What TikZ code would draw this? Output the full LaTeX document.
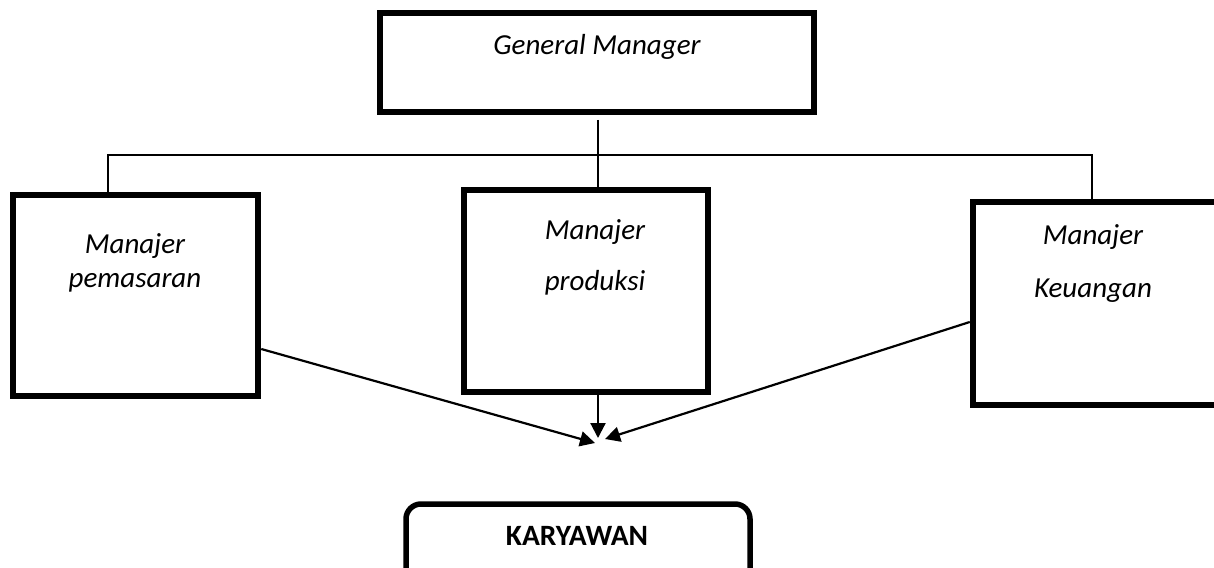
\documentclass[tikz,border=0pt]{standalone}
\usepackage{fontspec}
\setmainfont{Carlito}
\usetikzlibrary{arrows.meta}
\begin{document}
\begin{tikzpicture}[x=1pt,y=-1pt,
  box/.style={draw,line width=6.5pt,inner sep=0pt,minimum width=#1},
  lbl/.style={anchor=base,inner sep=0pt,font=\fontsize{29}{34}\selectfont\itshape},
  conn/.style={line width=2pt},
  arr/.style={line width=2.2pt,-{Triangle[length=15pt,width=15pt]}}]
\useasboundingbox (0,0) rectangle (1214,567);
% boxes
\node[box=434pt,minimum height=99pt] (gm) at (597,62.5) {};
\node[box=245pt,minimum height=201pt] (mp) at (135.5,295.5) {};
\node[box=244pt,minimum height=202pt] (md) at (586,291) {};
\node[box=246pt,minimum height=203pt] (mk) at (1096,303.5) {};
\node[draw,line width=5.5pt,rounded corners=15pt,inner sep=0pt,minimum width=344pt,minimum height=130pt] (kw) at (578,569) {};
% texts
\node[lbl] (tgm) at (597,55) {General Manager};
\node[lbl] (tmp1) at (135,253) {Manajer};
\node[lbl] (tmp2) at (135,287) {pemasaran};
\node[lbl] (tmd1) at (595,239) {Manajer};
\node[lbl] (tmd2) at (595,290) {produksi};
\node[lbl] (tmk1) at (1093,244) {Manajer};
\node[lbl] (tmk2) at (1093,297) {Keuangan};
\node[anchor=base,inner sep=0pt,font=\fontsize{29.5}{34}\selectfont\bfseries] (tkw) at (577,545) {KARYAWAN};
% connectors
\coordinate (top) at (598,120);
\coordinate (busL) at (108,155);
\coordinate (busR) at (1092,155);
\coordinate (busM) at (598,155);
\draw[conn] (top) -- (top |- md.north);
\draw[conn] (busL) -- (busR);
\draw[conn] (busL |- 0,154) -- (busL |- mp.north);
\draw[conn] (busR |- 0,154) -- (busR |- mk.north);
\coordinate (tipM) at (598,438);
\coordinate (tipL) at (595,443);
\coordinate (tipR) at (605,439);
\draw[arr] (tipM |- md.south) -- (tipM);
\draw[arr] ([yshift=-53.5pt]mp.east) -- (tipL);
\draw[arr] ([yshift=-18.5pt]mk.west) -- (tipR);
\end{tikzpicture}
\end{document}
